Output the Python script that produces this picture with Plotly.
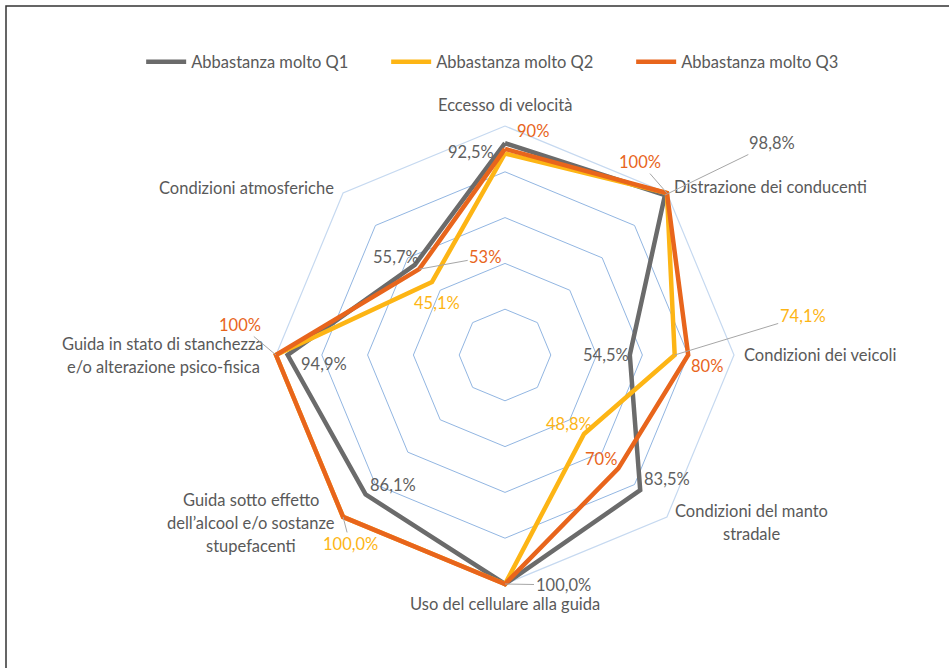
import math
import plotly.graph_objects as go

# ---------------- data ----------------
categories = [
    "Eccesso di velocità",
    "Distrazione dei conducenti",
    "Condizioni dei veicoli",
    "Condizioni del manto<br>stradale",
    "Uso del cellulare alla guida",
    "Guida sotto effetto<br>dell’alcool e/o sostanze<br>stupefacenti",
    "Guida in stato di stanchezza<br>e/o alterazione psico-fisica",
    "Condizioni atmosferiche",
]
series_names = ["Abbastanza molto Q1", "Abbastanza molto Q2", "Abbastanza molto Q3"]
q1_values = [92.5, 98.8, 54.5, 83.5, 100.0, 86.1, 94.9, 55.7]
q2_values = [88.0, 100.0, 74.1, 48.8, 100.0, 100.0, 100.0, 45.1]
q3_values = [90.0, 100.0, 80.0, 70.0, 100.0, 100.0, 100.0, 53.0]
radial_ticks = [20, 40, 60, 80]
outer_ring = [100.0] * len(categories)

colors = ["#6b6b6b", "#FDB515", "#E8651C"]
label_colors = ["#5f5f5f", "#FDB515", "#E8651C"]

# ---------------- geometry of the polar area (px) ----------------
W, H = 949, 668
CX, CY, R = 505, 355, 229      # R = pixel radius of the 100% ring
RMAX = 100.0
RANGE_MAX = 103.0              # a little room so lines at 100% are not clipped
R_DOM = R * RANGE_MAX / RMAX


def to_paper(value, idx, dx=0.0, dy=0.0):
    ang = math.radians(idx * 360.0 / len(categories))
    r = value / RMAX * R
    px = CX + r * math.sin(ang) + dx
    py = CY - r * math.cos(ang) + dy
    return px / W, 1 - py / H


fig = go.Figure()
# outer (100%) ring, lighter than the inner grid rings
fig.add_trace(go.Scatterpolar(
    r=outer_ring + [outer_ring[0]],
    theta=categories + [categories[0]],
    mode="lines", line=dict(color="#C6D9F0", width=1.2),
    showlegend=False, hoverinfo="skip",
))
all_values = [q1_values, q2_values, q3_values]
for name, vals, col in zip(series_names, all_values, colors):
    fig.add_trace(go.Scatterpolar(
        r=vals + [vals[0]],
        theta=categories + [categories[0]],
        mode="lines",
        name=name,
        line=dict(color=col, width=4.5),
        hoverinfo="skip",
    ))

FONT = "Lato, 'Open Sans', sans-serif"
FS = 16.5
annotations = []

# category labels (placement: anchor and offset from the outer vertex)
cat_place = [
    # (xanchor, dx, dy) relative to 100% vertex
    ("center", 0, -21),
    ("left", 5, -6),
    ("left", 8, 0),
    ("center", 85, 6),
    ("center", 0, 20),
    ("center", -92, 6),
    ("center", -113, 0),
    ("center", -97, -5),
]
line_h = 23
for i, (cat, (xa, dx, dy)) in enumerate(zip(categories, cat_place)):
    lines = cat.split("<br>")
    n = len(lines)
    for k, ln in enumerate(lines):
        off = (k - (n - 1) / 2) * line_h
        x, y = to_paper(RMAX, i, dx, dy + off)
        annotations.append(dict(
            x=x, y=y, xref="paper", yref="paper", text=ln, showarrow=False,
            xanchor=xa, yanchor="middle",
            font=dict(family=FONT, size=FS, color="#595959"),
        ))

# data labels: (series index, category index, dx, dy, leader)
label_specs = [
    (0, 0, -34, 9, False),
    (0, 1, 107, -52, True),
    (0, 2, -24, 0, False),
    (0, 3, 27, -11, False),
    (0, 4, 58, 1, True),
    (0, 5, 27, -9, False),
    (0, 6, 36, 9, False),
    (0, 7, -19, -8, False),
    (1, 2, 128, -39, True),
    (1, 3, -15, -10, False),
    (1, 5, 7, 27, True),
    (1, 7, 5, 21, False),
    (2, 0, 28, -18, False),
    (2, 1, -27, -31, True),
    (2, 2, 19, 11, False),
    (2, 3, -17, -9, False),
    (2, 6, -36, -30, True),
    (2, 7, 66, -12, True),
]


def fmt(s, v):
    if s == 2:
        return f"{v:.0f}%"
    return f"{v:.1f}%".replace(".", ",")


for s, i, dx, dy, leader in label_specs:
    v = all_values[s][i]
    txt = fmt(s, v)
    f = dict(family=FONT, size=FS, color=label_colors[s])
    if leader:
        x, y = to_paper(v, i)
        annotations.append(dict(
            x=x, y=y, xref="paper", yref="paper", text=txt, showarrow=True,
            ax=dx, ay=dy, axref="pixel", ayref="pixel",
            arrowhead=0, arrowwidth=1, arrowcolor="#a6a6a6", standoff=0,
            font=f,
        ))
    else:
        x, y = to_paper(v, i, dx, dy)
        annotations.append(dict(
            x=x, y=y, xref="paper", yref="paper", text=txt, showarrow=False,
            xanchor="center", yanchor="middle", font=f,
        ))

dom_x = [(CX - R_DOM) / W, (CX + R_DOM) / W]
dom_y = [1 - (CY + R_DOM) / H, 1 - (CY - R_DOM) / H]

fig.update_layout(
    width=W, height=H,
    margin=dict(l=0, r=0, t=0, b=0),
    paper_bgcolor="white",
    plot_bgcolor="white",
    font=dict(family=FONT, size=FS, color="#595959"),
    polar=dict(
        domain=dict(x=dom_x, y=dom_y),
        bgcolor="white",
        gridshape="linear",
        radialaxis=dict(
            range=[0, RANGE_MAX], tickvals=radial_ticks, showticklabels=False,
            showline=False, ticks="", gridcolor="#92B6E2", gridwidth=1.2,
        ),
        angularaxis=dict(
            type="category", categoryorder="array", categoryarray=categories,
            rotation=90, direction="clockwise",
            showticklabels=False, ticks="", showgrid=False,
            showline=False,
        ),
    ),
    legend=dict(
        orientation="h", x=0.536, xanchor="center", y=1 - 62 / H, yanchor="middle",
        font=dict(family=FONT, size=FS, color="#595959"),
        itemwidth=40, entrywidth=190, entrywidthmode="pixels",
        bgcolor="rgba(0,0,0,0)",
    ),
    annotations=annotations,
    shapes=[dict(
        type="rect", xref="paper", yref="paper",
        x0=6 / W, y0=-0.1, x1=1.1, y1=1 - 6 / H,
        line=dict(color="#333333", width=1.5),
    )],
)

fig.write_html(
    "out.html",
    config={"displayModeBar": False},
    post_script="document.body.style.margin='0px';",
)
